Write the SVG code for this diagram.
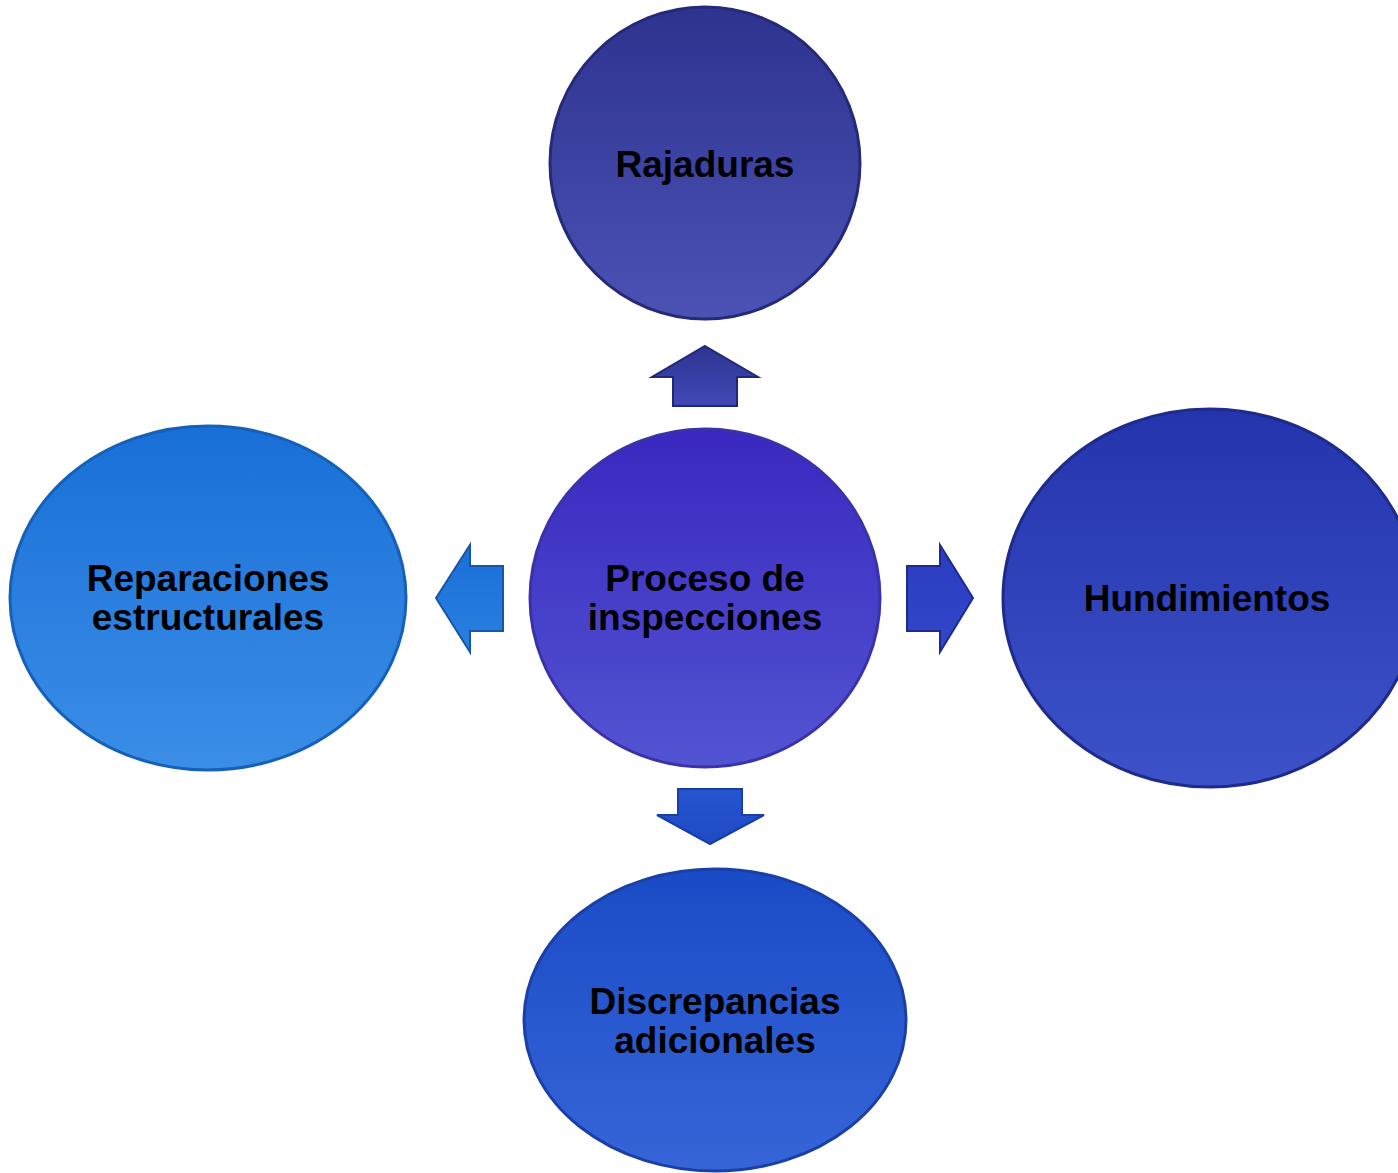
<svg xmlns="http://www.w3.org/2000/svg" width="1398" height="1173" viewBox="0 0 1398 1173">
<style>
.lbl{font-family:"Liberation Sans",Arial,sans-serif;font-weight:bold;font-size:37px;fill:#000;text-anchor:middle}
.node{stroke-width:3}
.arr{stroke-width:2;stroke-linejoin:miter}
</style>
<defs>
<linearGradient id="gRaj" x1="0" y1="0" x2="0" y2="1"><stop offset="0" stop-color="#2e3390"/><stop offset="1" stop-color="#4b52b4"/></linearGradient>
<linearGradient id="gCen" x1="0" y1="0" x2="0" y2="1"><stop offset="0" stop-color="#3a28c0"/><stop offset="1" stop-color="#5254d2"/></linearGradient>
<linearGradient id="gHun" x1="0" y1="0" x2="0" y2="1"><stop offset="0" stop-color="#2434ad"/><stop offset="1" stop-color="#3d52c8"/></linearGradient>
<linearGradient id="gRep" x1="0" y1="0" x2="0" y2="1"><stop offset="0" stop-color="#196fd8"/><stop offset="1" stop-color="#3b8ee6"/></linearGradient>
<linearGradient id="gDis" x1="0" y1="0" x2="0" y2="1"><stop offset="0" stop-color="#1a4bc6"/><stop offset="1" stop-color="#3765d8"/></linearGradient>
<linearGradient id="gAU" x1="0" y1="0" x2="0" y2="1"><stop offset="0" stop-color="#2e3590"/><stop offset="1" stop-color="#4048b8"/></linearGradient>
<linearGradient id="gAL" x1="0" y1="0" x2="0" y2="1"><stop offset="0" stop-color="#1a6fd8"/><stop offset="1" stop-color="#2a80e0"/></linearGradient>
<linearGradient id="gAR" x1="0" y1="0" x2="0" y2="1"><stop offset="0" stop-color="#2a3cc0"/><stop offset="1" stop-color="#3446c8"/></linearGradient>
<linearGradient id="gAD" x1="0" y1="0" x2="0" y2="1"><stop offset="0" stop-color="#2555cf"/><stop offset="1" stop-color="#1f4ac4"/></linearGradient>
</defs>
<g id="connectors">
<polygon class="arr" fill="url(#gAU)" stroke="#22267a" points="705,346 758,377 737,377 737,406 673,406 673,377 652,377"/>
<polygon class="arr" fill="url(#gAL)" stroke="#1656a8" points="436,598 470,545 470,566 503,566 503,631 470,631 470,652"/>
<polygon class="arr" fill="url(#gAR)" stroke="#1e2a90" points="973,598 940,545 940,566 907,566 907,631 940,631 940,652"/>
<polygon class="arr" fill="url(#gAD)" stroke="#1a3ea8" points="710,844 764,815 742,815 742,789 678,789 678,815 657,815"/>
</g>
<g id="node-rajaduras">
<ellipse class="node" cx="705" cy="163" rx="155" ry="156" fill="url(#gRaj)" stroke="#252a78"/>
<text class="lbl" x="705" y="177">Rajaduras</text>
</g>
<g id="node-proceso">
<ellipse class="node" cx="705" cy="598" rx="175" ry="169" fill="url(#gCen)" stroke="#3a32a8"/>
<text class="lbl" x="705" y="591">Proceso de</text>
<text class="lbl" x="705" y="630">inspecciones</text>
</g>
<g id="node-hundimientos">
<ellipse class="node" cx="1210" cy="598" rx="207" ry="189" fill="url(#gHun)" stroke="#1e2a8c"/>
<text class="lbl" x="1207" y="611">Hundimientos</text>
</g>
<g id="node-reparaciones">
<ellipse class="node" cx="208" cy="598" rx="198" ry="172" fill="url(#gRep)" stroke="#1560b8"/>
<text class="lbl" x="208" y="591">Reparaciones</text>
<text class="lbl" x="208" y="630">estructurales</text>
</g>
<g id="node-discrepancias">
<ellipse class="node" cx="715" cy="1020" rx="191" ry="151" fill="url(#gDis)" stroke="#1a40a8"/>
<text class="lbl" x="715" y="1014">Discrepancias</text>
<text class="lbl" x="715" y="1053">adicionales</text>
</g>
</svg>
